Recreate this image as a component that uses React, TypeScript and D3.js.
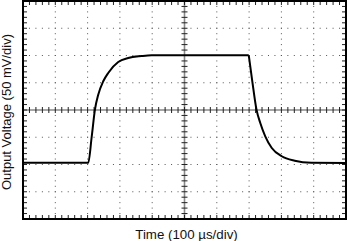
import React from "react";
import * as d3 from "d3";

// Waveform (time in µs, output in mV)
const riseTimeUs = [0, 202, 212.5, 222.7, 232.9, 248.4, 263.8, 294.8, 325.7, 367.2, 398.1, 500, 699];
const riseMv = [-97, -97, -50, 0.6, 28, 52.7, 68, 88, 95.4, 99, 100.4, 100.4, 100.4];
const fallTimeUs = [699, 709.9, 722.9, 734.6, 750, 770.2, 801.1, 841.3, 893, 1000];
const fallMv = [100.4, 52.7, 0.6, -23.9, -48.3, -69.7, -84.9, -93, -96.7, -97.3];

const xDivs = 10;
const yDivs = 8;
const minorPerDiv = 5;
const xLabel = "Time (100 µs/div)";
const yLabel = "Output Voltage (50 mV/div)";

const W = 347;
const H = 241;
const L = 23;
const R = 346;
const T = 1;
const B = 219;

export default function App() {
  const x = d3.scaleLinear().domain([0, 1000]).range([L, R]);
  const y = d3.scaleLinear().domain([-200, 200]).range([B, T]);

  const line = d3
    .line<[number, number]>()
    .x((d) => x(d[0]))
    .y((d) => y(d[1]))
    .curve(d3.curveMonotoneX);

  const risePts = riseTimeUs.map((t, i) => [t, riseMv[i]] as [number, number]);
  const fallPts = fallTimeUs.map((t, i) => [t, fallMv[i]] as [number, number]);

  const xMajor = d3.range(1, xDivs).map((i) => (i * 1000) / xDivs);
  const yMajor = d3.range(1, yDivs).map((i) => -200 + (i * 400) / yDivs);
  const xMinor = d3.range(1, xDivs * minorPerDiv).map((i) => (i * 1000) / (xDivs * minorPerDiv));
  const yMinor = d3.range(1, yDivs * minorPerDiv).map((i) => -200 + (i * 400) / (yDivs * minorPerDiv));

  const dx = (R - L) / (xDivs * minorPerDiv);
  const dy = (B - T) / (yDivs * minorPerDiv);

  return (
    <svg
      width={W}
      height={H}
      style={{ position: "absolute", left: 0, top: 0, background: "#fff" }}
      fontFamily="Liberation Sans, Arial, sans-serif"
    >
      {/* dotted grid */}
      {xMajor
        .filter((t) => t !== 500)
        .map((t) => (
          <line
            key={"gx" + t}
            x1={x(t)}
            x2={x(t)}
            y1={T}
            y2={B}
            stroke="#555"
            strokeWidth={1}
            strokeDasharray={`1 ${dy - 1}`}
            strokeDashoffset={-dy + 0.5}
          />
        ))}
      {yMajor
        .filter((v) => v !== 0)
        .map((v) => (
          <line
            key={"gy" + v}
            x1={L}
            x2={R}
            y1={y(v)}
            y2={y(v)}
            stroke="#555"
            strokeWidth={1}
            strokeDasharray={`1 ${dx - 1}`}
            strokeDashoffset={-dx + 0.5}
          />
        ))}
      {/* center lines */}
      <line x1={L} x2={R} y1={y(0)} y2={y(0)} stroke="#888" strokeWidth={1.6} />
      <line x1={x(500)} x2={x(500)} y1={T} y2={B} stroke="#888" strokeWidth={1.6} />
      {xMinor.map((t) => (
        <line key={"cx" + t} x1={x(t)} x2={x(t)} y1={y(0) - 3} y2={y(0) + 3} stroke="#222" strokeWidth={1} />
      ))}
      {yMinor.map((v) => (
        <line key={"cy" + v} x1={x(500) - 3} x2={x(500) + 3} y1={y(v)} y2={y(v)} stroke="#222" strokeWidth={1} />
      ))}
      {/* frame ticks */}
      {xMinor.map((t) => (
        <g key={"fx" + t}>
          <line x1={x(t)} x2={x(t)} y1={T} y2={T + 4} stroke="#222" strokeWidth={1} />
          <line x1={x(t)} x2={x(t)} y1={B} y2={B - 4} stroke="#222" strokeWidth={1} />
        </g>
      ))}
      {yMinor.map((v) => (
        <g key={"fy" + v}>
          <line x1={L} x2={L + 4} y1={y(v)} y2={y(v)} stroke="#222" strokeWidth={1} />
          <line x1={R} x2={R - 4} y1={y(v)} y2={y(v)} stroke="#222" strokeWidth={1} />
        </g>
      ))}
      {/* waveform */}
      <path d={line(risePts) || ""} fill="none" stroke="#000" strokeWidth={2} />
      <path d={line(fallPts) || ""} fill="none" stroke="#000" strokeWidth={2} />
      {/* frame */}
      <rect x={L} y={T} width={R - L} height={B - T} fill="none" stroke="#000" strokeWidth={2} />
      {/* labels */}
      <text x={(L + R) / 2 + 2} y={239} textAnchor="middle" fontSize={13.3} fill="#111">
        {xLabel}
      </text>
      <text
        transform={`translate(11,${(T + B) / 2 + 2}) rotate(-90)`}
        textAnchor="middle"
        fontSize={13}
        fill="#111"
      >
        {yLabel}
      </text>
    </svg>
  );
}
